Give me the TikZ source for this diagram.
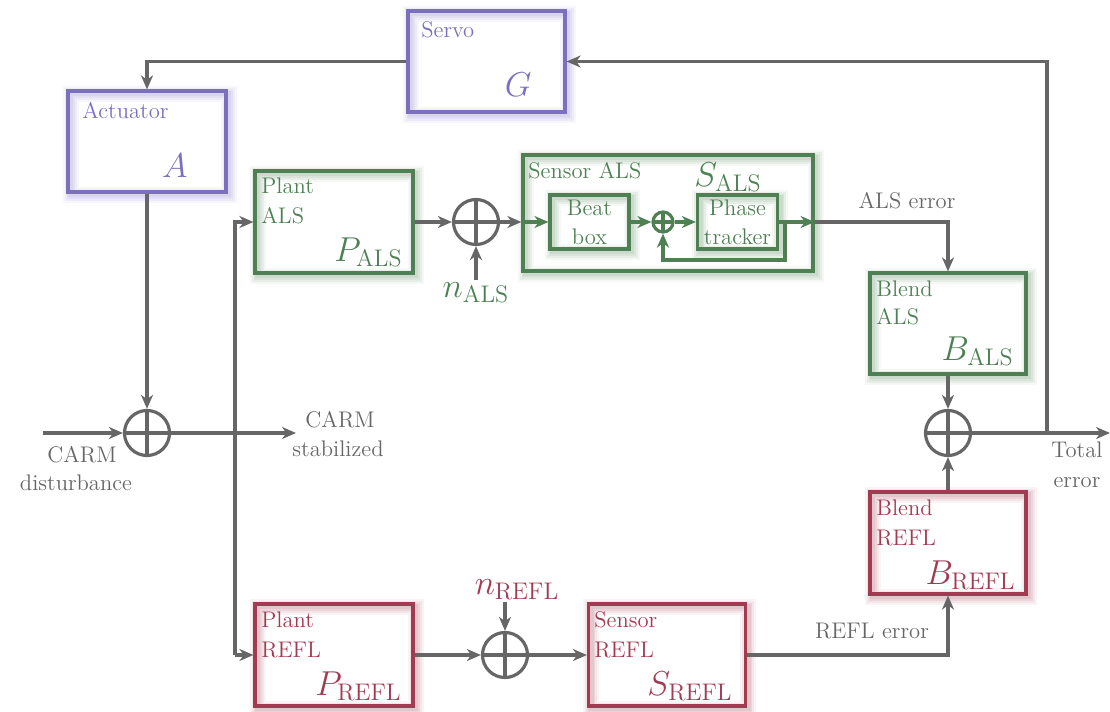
\documentclass[tikz,border=0pt]{standalone}
\usetikzlibrary{arrows.meta,calc}
\definecolor{cpur}{RGB}{122,112,190}
\definecolor{cgrn}{RGB}{78,128,84}
\definecolor{cred}{RGB}{162,58,82}
\definecolor{cgry}{RGB}{102,102,102}
\tikzset{
  lw/.style={line width=1.6pt},
  glow/.style={
    preaction={draw=#1,draw opacity=0.06,line width=8pt,transform canvas={xshift=1.4pt,yshift=-1.4pt}},
    preaction={draw=#1,draw opacity=0.08,line width=6pt,transform canvas={xshift=1.4pt,yshift=-1.4pt}},
    preaction={draw=#1,draw opacity=0.09,line width=4pt,transform canvas={xshift=1.4pt,yshift=-1.4pt}},
    preaction={draw=#1,draw opacity=0.10,line width=2.5pt,transform canvas={xshift=1.4pt,yshift=-1.4pt}}},
  blk/.style={draw=#1, lw, rectangle, inner sep=0pt, glow=#1},
  sumc/.style={circle, draw=cgry, lw, minimum size=22.5pt, inner sep=0pt,
    path picture={\draw[cgry,lw] (path picture bounding box.north) -- (path picture bounding box.south)
      (path picture bounding box.west) -- (path picture bounding box.east);}},
  sumg/.style={sumc, draw=cgrn, minimum size=10pt,
    path picture={\draw[cgrn,lw] (path picture bounding box.north) -- (path picture bounding box.south)
      (path picture bounding box.west) -- (path picture bounding box.east);}},
  arr/.style={lw, draw=cgry, -{Stealth[length=7pt,width=6pt,inset=2.2pt]}},
  garr/.style={lw, draw=cgrn, -{Stealth[length=7pt,width=6pt,inset=2.2pt]}},
  lab/.style={anchor=base west, inner sep=0pt, text=#1},
  clab/.style={anchor=base, inner sep=0pt, text=#1},
  mlab/.style={anchor=base east, inner sep=0pt, text=#1, font=\fontsize{16.5}{19}\selectfont},
}
\begin{document}
\begin{tikzpicture}[x=0.5pt,y=-0.5pt,font=\fontsize{11.3}{13.5}\selectfont]
\useasboundingbox (0,0) rectangle (1110,712);

% boxes
\node[blk=cpur, minimum width=78.5pt, minimum height=50.5pt] (servo) at (486.5,61.5) {};
\node[blk=cpur, minimum width=79pt, minimum height=50.5pt] (act) at (147,141.5) {};
\node[blk=cgrn, minimum width=79pt, minimum height=51pt] (pals) at (334,222) {};
\node[blk=cgrn, minimum width=145pt, minimum height=58pt] (sals) at (668,213) {};
\node[blk=cgrn, minimum width=39.5pt, minimum height=27pt] (beat) at (589.5,222) {};
\node[blk=cgrn, minimum width=40pt, minimum height=27pt] (phase) at (737.5,222) {};
\node[blk=cgrn, minimum width=78pt, minimum height=50.5pt] (bals) at (948,323.5) {};
\node[blk=cred, minimum width=78pt, minimum height=51pt] (brefl) at (948,543) {};
\node[blk=cred, minimum width=79pt, minimum height=51pt] (prefl) at (334,655) {};
\node[blk=cred, minimum width=78.5pt, minimum height=51pt] (srefl) at (667,655) {};

% summing junctions
\node[sumc] (carm) at (147,433) {};
\node[sumc] (sumals) at (476,222) {};
\node[sumg] (small) at (663,222) {};
\node[sumc] (sumtot) at (948,433) {};
\node[sumc] (sumrefl) at (505,655) {};

% box texts
\node[lab=cpur] (servoL) at (421,37) {Servo};
\node[lab=cpur] (actL) at (82,118) {Actuator};
\node[lab=cgrn] (palsL1) at (261,193) {Plant};
\node[lab=cgrn] (palsL2) at (261,223) {ALS};
\node[lab=cgrn] (salsL) at (528,178) {Sensor ALS};
\node[clab=cgrn] (beatL1) at (589.5,215) {Beat};
\node[clab=cgrn] (beatL2) at (589.5,244) {box};
\node[clab=cgrn] (phaseL1) at (737.5,215) {Phase};
\node[clab=cgrn] (phaseL2) at (737.5,244) {tracker};
\node[lab=cgrn] (balsL1) at (876,296) {Blend};
\node[lab=cgrn] (balsL2) at (876,324) {ALS};
\node[lab=cred] (breflL1) at (876,515) {Blend};
\node[lab=cred] (breflL2) at (876,545) {REFL};
\node[lab=cred] (preflL1) at (261,627) {Plant};
\node[lab=cred] (preflL2) at (261,657) {REFL};
\node[lab=cred] (sreflL1) at (594,627) {Sensor};
\node[lab=cred] (sreflL2) at (594,657) {REFL};

% math labels
\node[mlab=cpur] (G) at (532,97) {$G$};
\node[mlab=cpur] (A) at (188,177) {$A$};
\node[mlab=cgrn] (Pals) at (403,261) {$P_{\mathrm{ALS}}$};
\node[mlab=cgrn] (Sals) at (762,186) {$S_{\mathrm{ALS}}$};
\node[mlab=cgrn] (Bals) at (1014,360) {$B_{\mathrm{ALS}}$};
\node[mlab=cred] (Brefl) at (1016,584) {$B_{\mathrm{REFL}}$};
\node[mlab=cred] (Prefl) at (402,695) {$P_{\mathrm{REFL}}$};
\node[mlab=cred] (Srefl) at (733,695) {$S_{\mathrm{REFL}}$};
\node[clab=cgrn, font=\fontsize{16.5}{19}\selectfont, inner sep=1pt] (nals) at (476,297) {$n_{\mathrm{ALS}}$};
\node[clab=cred, font=\fontsize{16.5}{19}\selectfont, inner sep=1pt] (nrefl) at (517,594) {$n_{\mathrm{REFL}}$};

% outside labels
\node[clab=cgry] (alserr) at (907,208) {ALS error};
\node[clab=cgry] (reflerr) at (872,638) {REFL error};
\node[clab=cgry] (tot1) at (1077,457) {Total};
\node[clab=cgry] (tot2) at (1077,487) {error};
\node[clab=cgry] (st1) at (340,427) {CARM};
\node[clab=cgry] (st2) at (338,456) {stabilized};
\node[clab=cgry] (di1) at (82,462) {CARM};
\node[clab=cgry] (di2) at (76,490) {disturbance};

% coordinates
\coordinate (din) at (43,433);
\coordinate (cout) at (296,433);
\coordinate (vtop) at (235,222);
\coordinate (vbot) at (235,655);
\coordinate (tout) at (1110,433);
\coordinate (fbx) at (1047,433);
\coordinate (fbk) at (785,260);

% connectors
\draw[arr] (servo.west) -| (act.north);
\draw[arr] (act.south) -- (carm.north);
\draw[arr] (din) -- (carm.west);
\draw[arr] (carm.east) -- (cout);
\draw[arr] (vbot) -- (vtop) -- (pals.west);
\draw[arr] (vbot) -- (prefl.west);
\draw[arr] (pals.east) -- (sumals.west);
\draw[arr] (sumals.east) -- (sumals.east -| sals.west);
\draw[arr] (nals.north) -- (sumals.south);
\draw[garr] (sumals.east -| sals.west) -- (beat.west);
\draw[garr] (beat.east) -- (small.west);
\draw[garr] (small.east) -- (phase.west);
\draw[garr] (phase.east) -- (phase.east -| sals.east);
\draw[garr] (fbk |- phase.east) -- (fbk) -| (small.south);
\draw[arr] (phase.east -| sals.east) -| (bals.north);
\draw[arr] (bals.south) -- (sumtot.north);
\draw[arr] (brefl.north) -- (sumtot.south);
\draw[arr] (sumtot.east) -- (tout);
\draw[arr] (fbx) |- (servo.east);
\draw[arr] (prefl.east) -- (sumrefl.west);
\draw[arr] (sumrefl.east) -- (srefl.west);
\draw[arr] (nrefl.south -| sumrefl.north) -- (sumrefl.north);
\draw[arr] (srefl.east) -| (brefl.south);
\end{tikzpicture}
\end{document}
